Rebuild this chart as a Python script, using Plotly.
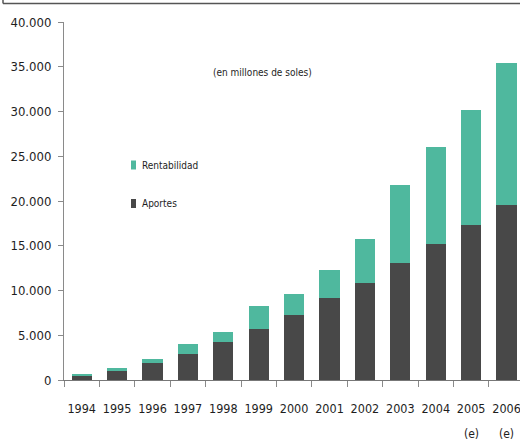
import plotly.graph_objects as go

# Fund growth by year, in millions of soles
years = ["1994", "1995", "1996", "1997", "1998", "1999", "2000",
         "2001", "2002", "2003", "2004", "2005", "2006"]
aportes = [450, 1000, 1850, 2900, 4200, 5700, 7250,
           9150, 10850, 13100, 15200, 17300, 19600]
rentabilidad = [150, 350, 550, 1100, 1200, 2600, 2350,
                3100, 4850, 8700, 10850, 12850, 15850]
estimated_years = ["2005", "2006"]
y_ticks = [0, 5000, 10000, 15000, 20000, 25000, 30000, 35000, 40000]

TEAL = "#4fb89e"
DARK = "#484848"
TEXT = "#1e1e1e"
FONT = "DejaVu Sans Condensed, Liberation Sans Narrow, Arial Narrow, sans-serif"

W, H = 520, 444
L, R, T, B = 64, 0, 22, 64
PW, PH = W - L - R, H - T - B


def px(x):
    return (x - L) / PW


def py(y):
    return (H - B - y) / PH


fig = go.Figure()
fig.add_trace(go.Bar(x=years, y=aportes, name="Aportes",
                     marker=dict(color=DARK, line=dict(width=0)),
                     showlegend=False))
fig.add_trace(go.Bar(x=years, y=rentabilidad, name="Rentabilidad",
                     marker=dict(color=TEAL, line=dict(width=0)),
                     showlegend=False))

# legend drawn by hand: small swatches with labels
legend_items = [("Rentabilidad", TEAL, 165), ("Aportes", DARK, 203.5)]
shapes = []
annotations = []
for label, color, yc in legend_items:
    shapes.append(dict(type="rect", xref="paper", yref="paper",
                       x0=px(131), x1=px(136), y0=py(yc + 4.5), y1=py(yc - 4.5),
                       fillcolor=color, line=dict(width=0)))
    annotations.append(dict(text=label, xref="paper", yref="paper",
                            x=px(140), y=py(yc), xanchor="left", yanchor="middle",
                            showarrow=False, font=dict(family=FONT, size=10, color=TEXT)))

annotations.append(dict(text="(en millones de soles)", xref="paper", yref="paper",
                        x=px(262), y=py(72), xanchor="center", yanchor="middle",
                        showarrow=False, font=dict(family=FONT, size=10, color=TEXT)))

# "(e)" marks under the estimated years (category axis uses serial positions)
for yr in estimated_years:
    annotations.append(dict(text="(e)", xref="x", yref="paper",
                            x=years.index(yr), y=py(434), xanchor="center", yanchor="middle",
                            showarrow=False, font=dict(family=FONT, size=12, color=TEXT)))

# frame edge at the top of the page
shapes.append(dict(type="line", xref="paper", yref="paper",
                   x0=px(3), x1=px(530), y0=py(3.5), y1=py(3.5),
                   line=dict(color="#555555", width=1.5)))
shapes.append(dict(type="line", xref="paper", yref="paper",
                   x0=px(3), x1=px(3), y0=py(-2), y1=py(3.5),
                   line=dict(color="#555555", width=1.5)))

fig.update_layout(
    width=W, height=H,
    margin=dict(l=L, r=R, t=T, b=B, pad=0),
    barmode="stack",
    bargap=0.43,
    plot_bgcolor="white",
    paper_bgcolor="white",
    separators=",.",
    shapes=shapes,
    annotations=annotations,
    font=dict(family=FONT, color=TEXT),
    xaxis=dict(
        type="category",
        range=[-0.5, 12.38],
        showgrid=False,
        showline=True, linecolor="#777777", linewidth=1,
        ticks="outside", tickson="boundaries", ticklen=6, tickcolor="#8a8a8a",
        tickfont=dict(family=FONT, size=12.5, color=TEXT),
        tickangle=0,
        ticklabelstandoff=17,
    ),
    yaxis=dict(
        range=[0, 40000],
        tickvals=y_ticks,
        tickformat=",d",
        showgrid=False, zeroline=False,
        showline=True, linecolor="#8a8a8a", linewidth=1,
        ticks="outside", ticklen=5, tickcolor="#8a8a8a",
        tickfont=dict(family=FONT, size=13, color=TEXT),
        ticklabelstandoff=4,
    ),
)

fig.write_html("out.html")
